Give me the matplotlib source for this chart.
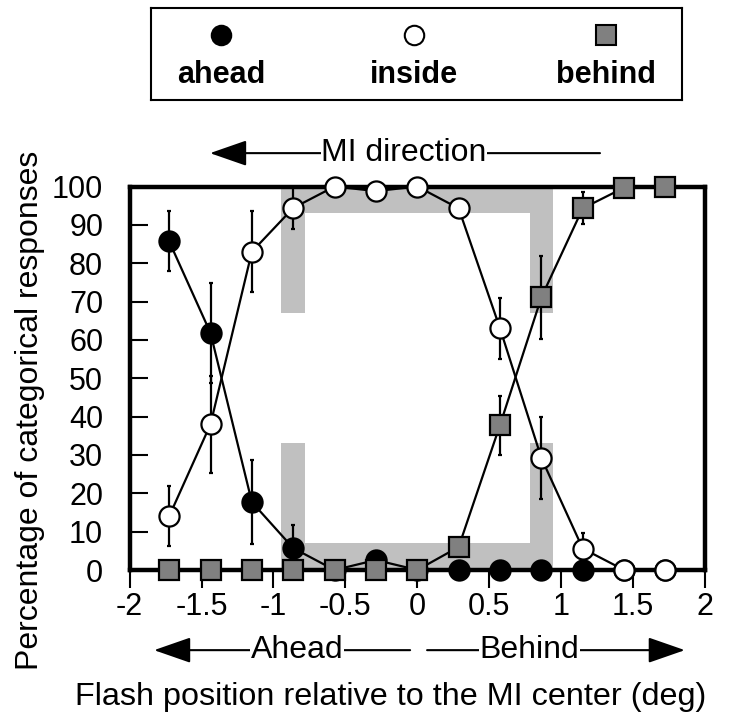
import numpy as np
import matplotlib
matplotlib.use("Agg")
import matplotlib.pyplot as plt
from matplotlib.patches import Polygon

plt.rcParams["font.family"] = ["Liberation Sans", "DejaVu Sans"]

# flash positions (deg) and percentage of each categorical response
positions = [-1.725, -1.4375, -1.15, -0.8625, -0.575, -0.2875, 0.0,
             0.2875, 0.575, 0.8625, 1.15, 1.4375, 1.725]
ahead = [85.7, 61.8, 17.7, 5.7, 0, 2.6, 0, 0, 0, 0, 0, 0, 0]
ahead_err = [7.8, 13.0, 11.0, 6.0, 0, 0, 0, 0, 0, 0, 0, 0, 0]
inside = [14.0, 38.0, 83.0, 94.4, 100, 98.8, 100, 94.3, 63.0, 29.2, 5.6, 0, 0]
inside_err = [7.8, 12.7, 10.5, 5.5, 0, 0, 0, 0, 8.0, 10.7, 4.0, 0, 0]
behind = [0, 0, 0, 0, 0, 0, 0, 6.0, 37.8, 71.1, 94.3, 99.7, 100]
behind_err = [0, 0, 0, 0, 0, 0, 0, 0, 7.7, 10.8, 4.2, 0, 0]

# MI edges (gray brackets): outer / inner x, band thickness in %
mi_outer, mi_inner = 0.945, 0.78
band_lo, band_hi = 7, 93
arm_lo, arm_hi = 33, 67

W, H = 732, 717
fig = plt.figure(figsize=(W / 100, H / 100), dpi=100)
ax = fig.add_axes([129.6 / W, 1 - 570 / H, (705 - 129.6) / W, (570 - 186.5) / H])

GRAY = "#c0c0c0"
bottom_bracket = [(-mi_outer, 0), (-mi_outer, arm_lo), (-mi_inner, arm_lo),
                  (-mi_inner, band_lo), (mi_inner, band_lo), (mi_inner, arm_lo),
                  (mi_outer, arm_lo), (mi_outer, 0)]
top_bracket = [(-mi_outer, 100), (-mi_outer, arm_hi), (-mi_inner, arm_hi),
               (-mi_inner, band_hi), (mi_inner, band_hi), (mi_inner, arm_hi),
               (mi_outer, arm_hi), (mi_outer, 100)]
for pts in (bottom_bracket, top_bracket):
    ax.add_patch(Polygon(pts, closed=True, facecolor=GRAY, edgecolor="none", zorder=1))

common = dict(color="black", lw=1.6, ms=14.5, mew=1.6, elinewidth=1.6,
              capsize=1.5, capthick=1.6, clip_on=False)
series = [
    (ahead, ahead_err, "o", "black"),
    (inside, inside_err, "o", "white"),
    (behind, behind_err, "s", "#808080"),
]
for z, (vals, err, mk, fc) in enumerate(series):
    c = ax.errorbar(positions, vals, yerr=err, fmt=mk, mfc=fc, mec="black",
                    linestyle="-", zorder=5 + z, **common)
    for art in c.lines[1] + c.lines[2]:
        art.set_clip_on(False)

ax.set_xlim(-2, 2)
ax.set_ylim(0, 100)
ax.set_xticks(np.arange(-2, 2.01, 0.5))
ax.set_xticklabels(["-2", "-1.5", "-1", "-0.5", "0", "0.5", "1", "1.5", "2"])
ax.set_yticks(np.arange(0, 101, 10))
for s in ax.spines.values():
    s.set_linewidth(3.2)
    s.set_zorder(4)
ax.tick_params(axis="y", direction="in", length=13, width=1.5, labelsize=22, pad=19)
ax.tick_params(axis="x", direction="out", length=13, width=1.5, labelsize=22, pad=3)

# direction arrows above and below the plot
trans = ax.get_xaxis_transform()
arrow = dict(arrowstyle="-|>,head_length=1.15,head_width=0.4", mutation_scale=20,
             color="black", lw=1.5, shrinkA=0, shrinkB=0)
txt_box = dict(facecolor="white", edgecolor="none", pad=0.5)

ax.annotate("", xy=(-1.441, 1.087), xytext=(1.27, 1.087),
            xycoords=trans, textcoords=trans, arrowprops=arrow, annotation_clip=False)
ax.text(-0.092, 1.087, "MI direction", transform=trans, ha="center", va="center",
        fontsize=23, bbox=txt_box, zorder=6)

row = -0.209
ax.annotate("", xy=(-1.83, row), xytext=(-0.05, row),
            xycoords=trans, textcoords=trans, arrowprops=arrow, annotation_clip=False)
ax.text(-0.835, row, "Ahead", transform=trans, ha="center", va="center",
        fontsize=23, bbox=txt_box, zorder=6)
ax.annotate("", xy=(1.86, row), xytext=(0.068, row),
            xycoords=trans, textcoords=trans, arrowprops=arrow, annotation_clip=False)
ax.text(0.777, row, "Behind", transform=trans, ha="center", va="center",
        fontsize=23, bbox=txt_box, zorder=6)

fig.text(391 / W, 1 - 697 / H, "Flash position relative to the MI center (deg)",
         ha="center", va="center", fontsize=23.3)
fig.text(30 / W, 1 - 410 / H, "Percentage of categorical responses",
         ha="center", va="center", rotation=90, fontsize=23)

# legend box: markers above bold labels
lg = fig.add_axes([151 / W, 1 - 100 / H, (682 - 151) / W, 92 / H])
lg.set_xlim(0, 1)
lg.set_ylim(0, 1)
lg.set_xticks([])
lg.set_yticks([])
for s in lg.spines.values():
    s.set_linewidth(1.5)
labels = ["ahead", "inside", "behind"]
for xc, lab, (_, _, mk, fc) in zip([0.132, 0.495, 0.857], labels, series):
    lg.plot(xc, 0.71, mk, mfc=fc, mec="black", ms=14, mew=1.5)
    lg.text(xc, 0.27, lab, ha="center", va="center", fontsize=22, fontweight="bold")

fig.savefig("out.png", dpi=100)
